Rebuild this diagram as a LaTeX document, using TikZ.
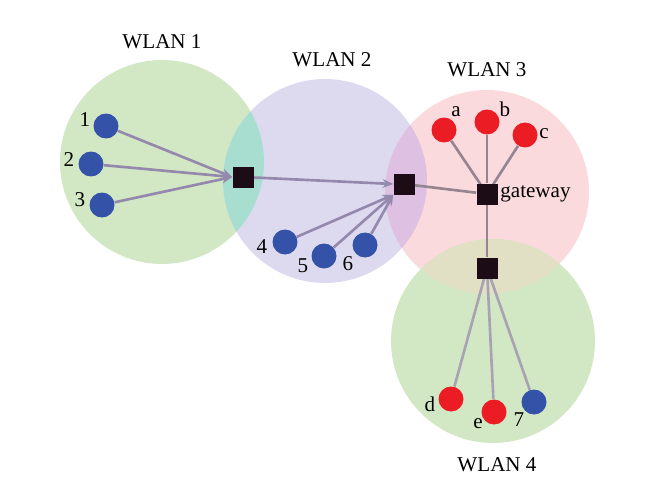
\documentclass[tikz,border=0pt]{standalone}
\usepackage{fontspec}
\setmainfont{Liberation Serif}
\usetikzlibrary{arrows.meta}
\definecolor{gfill}{RGB}{210,232,196}
\definecolor{pfill}{RGB}{221,218,240}
\definecolor{rfill}{RGB}{250,218,220}
\definecolor{tealov}{RGB}{168,222,208}
\definecolor{mauveov}{RGB}{222,192,226}
\definecolor{oliveov}{RGB}{226,224,196}
\definecolor{dotblue}{RGB}{52,82,168}
\definecolor{dotred}{RGB}{236,28,36}
\definecolor{sqcol}{RGB}{28,12,22}
\definecolor{linkcol}{RGB}{148,136,172}
\definecolor{gwcol}{RGB}{150,132,145}
\definecolor{w4col}{RGB}{168,162,178}
\begin{document}
\begin{tikzpicture}[x=0.02cm,y=-0.02cm,
  wlan/.style={circle,minimum size=4.08cm,inner sep=0pt},
  bdot/.style={circle,fill=dotblue,minimum size=0.5cm,inner sep=0pt},
  rdot/.style={circle,fill=dotred,minimum size=0.5cm,inner sep=0pt},
  ap/.style={rectangle,fill=sqcol,minimum size=0.42cm,inner sep=0pt},
  link/.style={draw=linkcol,line width=1.5pt},
  gwlink/.style={draw=gwcol,line width=1.5pt},
  w4link/.style={draw=w4col,line width=1.5pt},
  alink/.style={link,-{Stealth[length=6pt,width=5pt]}},
  lbl/.style={font=\fontsize{12}{14}\selectfont,inner sep=0pt},
]
\useasboundingbox (0,0) rectangle (666,490);
% coverage areas
\node[wlan,fill=gfill] (w1) at (162,162) {};
\node[wlan,fill=pfill] (w2) at (325,181) {};
\node[wlan,fill=rfill] (w3) at (487,192) {};
\node[wlan,fill=gfill] (w4) at (493,341) {};
% overlaps
\begin{scope}
  \clip (162,162) circle [radius=2.04cm];
  \fill[tealov] (325,181) circle [radius=2.04cm];
\end{scope}
\begin{scope}
  \clip (325,181) circle [radius=2.04cm];
  \fill[mauveov] (487,192) circle [radius=2.04cm];
\end{scope}
\begin{scope}
  \clip (487,192) circle [radius=2.04cm];
  \fill[oliveov] (493,341) circle [radius=2.04cm];
\end{scope}
% titles
\node[lbl] (t1) at (162,42) {WLAN 1};
\node[lbl] (t2) at (332,60) {WLAN 2};
\node[lbl] (t3) at (487,70) {WLAN 3};
\node[lbl] (t4) at (497,465) {WLAN 4};
% access points
\node[ap] (s1) at (243,177) {};
\node[ap] (s2) at (404,184) {};
\node[ap] (gw) at (487,194) {};
\node[ap] (s4) at (487,268) {};
\node[lbl,anchor=west] (gwl) at (500,194) {gateway};
% stations
\node[bdot] (n1) at (106,126) {};
\node[bdot] (n2) at (91,164) {};
\node[bdot] (n3) at (102,205) {};
\node[bdot] (n4) at (285,242) {};
\node[bdot] (n5) at (324,256) {};
\node[bdot] (n6) at (365,245) {};
\node[rdot] (na) at (444,130) {};
\node[rdot] (nb) at (487,122) {};
\node[rdot] (nc) at (525,135) {};
\node[rdot] (nd) at (451,399) {};
\node[rdot] (ne) at (494,412) {};
\node[bdot] (n7) at (534,402) {};
% station labels
\node[lbl] (l1) at (85,120) {1};
\node[lbl] (l2) at (69,160) {2};
\node[lbl] (l3) at (80,200) {3};
\node[lbl] (l4) at (262,247) {4};
\node[lbl] (l5) at (303,266) {5};
\node[lbl] (l6) at (348,264) {6};
\node[lbl] (la) at (456,112) {a};
\node[lbl] (lb) at (505,109) {b};
\node[lbl] (lc) at (544,134) {c};
\node[lbl] (ld) at (430,404) {d};
\node[lbl] (le) at (478,424) {e};
\node[lbl] (l7) at (519,420) {7};
% links
\draw[alink] (n1) -- (s1.west);
\draw[alink] (n2) -- (s1.west);
\draw[alink] (n3) -- (s1.west);
\draw[alink] (s1) -- (s2.west);
\draw[alink] (n4) -- (s2.south west);
\draw[alink] (n5) -- (s2.south west);
\draw[alink] (n6) -- (s2.south west);
\draw[gwlink] (s2) -- (gw);
\draw[gwlink] (na) -- (gw.center);
\draw[gwlink] (nb) -- (gw);
\draw[gwlink] (nc) -- (gw.center);
\draw[gwlink] (gw) -- (s4);
\draw[w4link] (s4.center) -- (nd);
\draw[w4link] (s4) -- (ne);
\draw[w4link] (s4.center) -- (n7);
% redraw squares on top
\node[ap] at (s1) {};
\node[ap] at (s2) {};
\node[ap] at (gw) {};
\node[ap] at (s4) {};
\end{tikzpicture}
\end{document}
